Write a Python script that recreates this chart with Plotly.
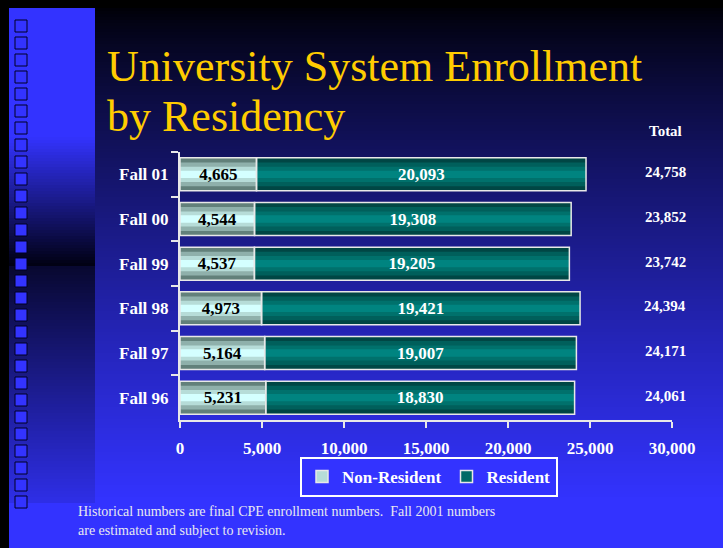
import plotly.graph_objects as go

# Datos de matrícula por residencia
terms = ["Fall 01", "Fall 00", "Fall 99", "Fall 98", "Fall 97", "Fall 96"]
non_resident = [4665, 4544, 4537, 4973, 5164, 5231]
resident = [20093, 19308, 19205, 19421, 19007, 18830]
totals = [n + r for n, r in zip(non_resident, resident)]
x_ticks = [0, 5000, 10000, 15000, 20000, 25000, 30000]

W, H = 723, 548
L, R, T, B = 180, 51, 152, 128
PW, PH = W - L - R, H - T - B
SERIF = "Liberation Serif, Times New Roman, serif"
BAR_W = 0.74


def px_x(x):
    return (x - L) / PW


def px_y(y):
    return (H - B - y) / PH


def lerp(c1, c2, t):
    t = max(0.0, min(1.0, t))
    return "rgb(%d,%d,%d)" % tuple(round(a + (b - a) * t) for a, b in zip(c1, c2))


BLUE = (51, 51, 255)
BLACK = (0, 0, 8)

shapes = [dict(type="rect", xref="paper", yref="paper", x0=px_x(0), x1=px_x(W),
               y0=px_y(H), y1=px_y(0), fillcolor="#000000", line_width=0, layer="below"),
          dict(type="rect", xref="paper", yref="paper", x0=px_x(9), x1=px_x(W),
               y0=px_y(H), y1=px_y(8), fillcolor="#3333ff", line_width=0, layer="below")]

# fondo degradado del panel principal
step = 3
for y in range(8, 502, step):
    t = ((y - 8) / (500 - 8)) ** 0.85
    shapes.append(dict(type="rect", xref="paper", yref="paper", x0=px_x(95), x1=px_x(W),
                       y0=px_y(y + step), y1=px_y(y), fillcolor=lerp(BLACK, BLUE, t),
                       line_width=0, layer="below"))

# franja izquierda
for y in range(8, 502, step):
    if y < 135:
        c = "#3333ff"
    elif y < 265:
        c = lerp(BLUE, (0, 0, 16), (y - 135) / 130)
    else:
        c = lerp((8, 8, 48), (46, 46, 230), (y - 265) / 235)
    shapes.append(dict(type="rect", xref="paper", yref="paper", x0=px_x(9), x1=px_x(95),
                       y0=px_y(y + step), y1=px_y(y), fillcolor=c, line_width=0, layer="below"))

# cuadritos decorativos
for i in range(29):
    y0 = 20 + i * 17
    shapes.append(dict(type="rect", xref="paper", yref="paper", x0=px_x(15), x1=px_x(27),
                       y0=px_y(y0 + 12), y1=px_y(y0), fillcolor="#3333ff",
                       line=dict(color="#000022", width=1), layer="below"))

fig = go.Figure()

NONRES_COLORS = ["#62807a", "#8fb0ab", "#b6dcd8", "#d4ffff"]
RES_COLORS = ["#004644", "#005f5b", "#00716c", "#008480"]
factors = [1.0, 0.72, 0.46, 0.22]

for name, vals, base, colors in [
    ("Non-Resident", non_resident, [0] * 6, NONRES_COLORS),
    ("Resident", resident, non_resident, RES_COLORS),
]:
    for f, c in zip(factors, colors):
        fig.add_trace(go.Bar(
            y=terms, x=vals, base=base, orientation="h", width=BAR_W * f,
            marker=dict(color=c, line=dict(width=0)), name=name,
            legendgroup=name, showlegend=False, hoverinfo="skip",
        ))

# contorno y etiquetas
for name, vals, base, tcolor in [
    ("Non-Resident", non_resident, [0] * 6, "#000000"),
    ("Resident", resident, non_resident, "#ffffff"),
]:
    fig.add_trace(go.Bar(
        y=terms, x=vals, base=base, orientation="h", width=BAR_W,
        marker=dict(color="rgba(0,0,0,0)", line=dict(color="#e8e8e8", width=1.5)),
        name=name, legendgroup=name, showlegend=False,
        text=[f"{v:,}" for v in vals], textposition="inside", insidetextanchor="middle",
        constraintext="none",
        textfont=dict(family=SERIF, size=17, color=tcolor, weight="bold"),
    ))

# entradas de leyenda
for name, c in [("Non-Resident", "#b6dcd8"), ("Resident", "#006a66")]:
    fig.add_trace(go.Bar(
        y=[None], x=[None], orientation="h", name=name, legendgroup=name,
        marker=dict(color=c, line=dict(color="#e8e8e8", width=1.5)), showlegend=True,
    ))

annotations = [
    dict(text="University System Enrollment", x=px_x(105), y=px_y(66), xanchor="left",
         yanchor="middle", font=dict(family=SERIF, size=44, color="#ffcc00")),
    dict(text="by Residency", x=px_x(105), y=px_y(116), xanchor="left",
         yanchor="middle", font=dict(family=SERIF, size=44, color="#ffcc00")),
    dict(text="Total", x=px_x(665), y=px_y(131), xanchor="center", yanchor="middle",
         font=dict(family=SERIF, size=15, color="#ffffff", weight="bold")),
    dict(text="Historical numbers are final CPE enrollment numbers.  Fall 2001 numbers",
         x=px_x(76), y=px_y(511), xanchor="left", yanchor="middle",
         font=dict(family=SERIF, size=14, color="#e8e8f0")),
    dict(text="are estimated and subject to revision.",
         x=px_x(76), y=px_y(530), xanchor="left", yanchor="middle",
         font=dict(family=SERIF, size=14, color="#e8e8f0")),
]
for term, tot in zip(terms, totals):
    annotations.append(dict(text=f"{tot:,}", xref="paper", yref="y", x=px_x(665), y=term,
                            xanchor="center", yanchor="middle", yshift=2,
                            font=dict(family=SERIF, size=15, color="#ffffff", weight="bold")))
for a in annotations:
    a.setdefault("xref", "paper")
    a.setdefault("yref", "paper")
    a["showarrow"] = False

fig.update_layout(
    width=W, height=H,
    margin=dict(l=L, r=R, t=T, b=B),
    paper_bgcolor="#3333ff",
    plot_bgcolor="rgba(0,0,0,0)",
    barmode="overlay",
    bargap=0.26,
    shapes=shapes,
    annotations=annotations,
    font=dict(family=SERIF, color="#ffffff"),
    xaxis=dict(
        range=[0, 30000], tickvals=x_ticks, ticktext=[f"{v:,}" for v in x_ticks],
        showgrid=False, zeroline=False, showline=True, linecolor="#e8e8e8", linewidth=2,
        ticks="outside", ticklen=6, tickcolor="#e8e8e8", tickwidth=2,
        ticklabelstandoff=6,
        tickfont=dict(family=SERIF, size=17, color="#ffffff", weight="bold"),
    ),
    yaxis=dict(
        categoryorder="array", categoryarray=terms, autorange="reversed",
        showgrid=False, zeroline=False, showline=True, linecolor="#e8e8e8", linewidth=2,
        ticks="outside", ticklen=7, tickcolor="#e8e8e8", tickwidth=2, tickson="boundaries",
        ticklabelstandoff=6,
        tickfont=dict(family=SERIF, size=17, color="#ffffff", weight="bold"),
    ),
    legend=dict(
        orientation="h", x=px_x(429), y=px_y(477), xanchor="center", yanchor="middle",
        bgcolor="#3333ff", bordercolor="#ffffff", borderwidth=2,
        font=dict(family=SERIF, size=17, color="#ffffff", weight="bold"),
        traceorder="normal", itemwidth=30,
    ),
    showlegend=True,
)

fig.write_html("out.html", config={"displayModeBar": False},
               post_script="document.body.style.margin='0';")
